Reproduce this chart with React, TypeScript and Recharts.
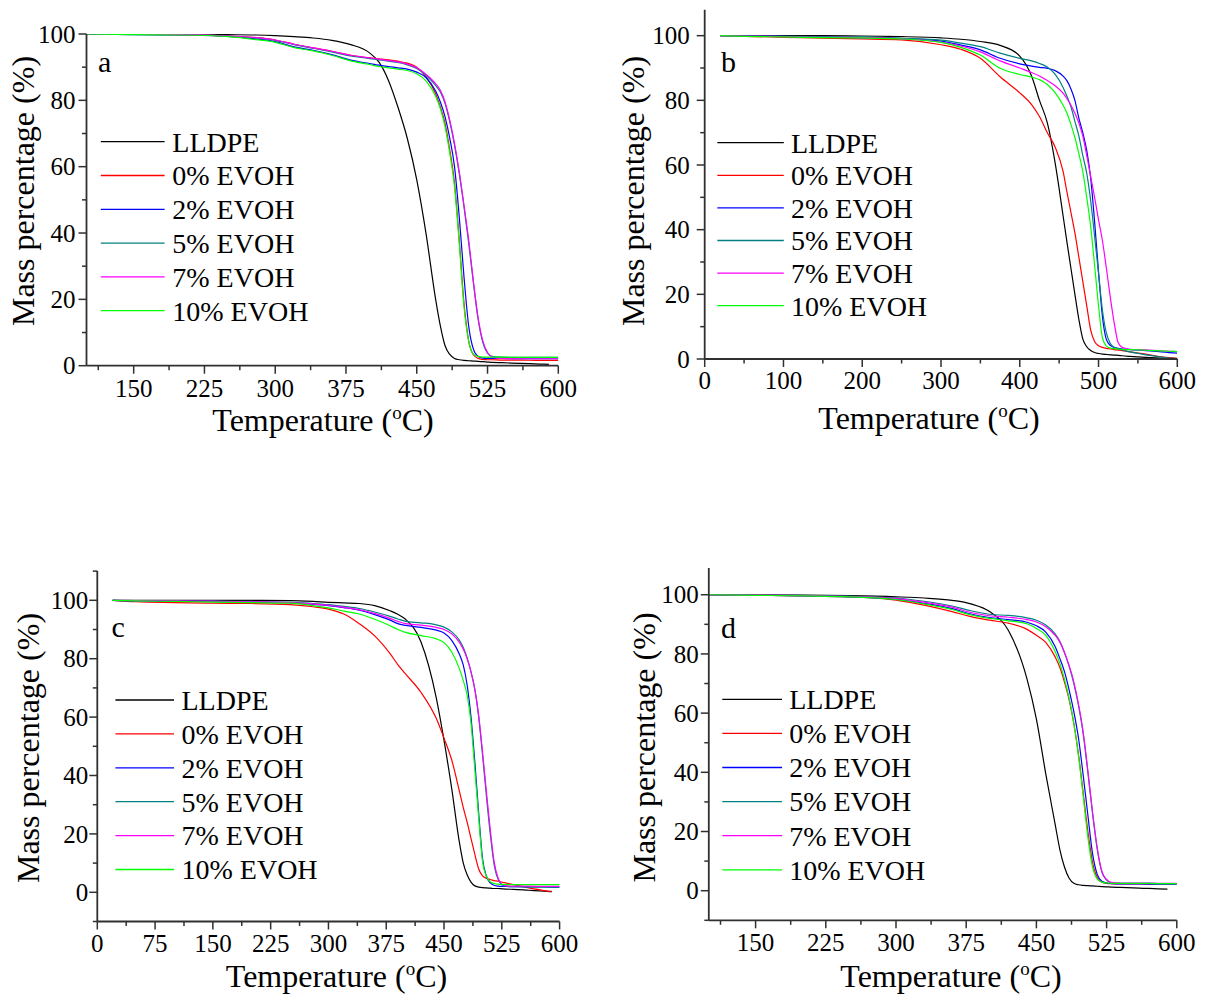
import React from 'react';
import { LineChart, Line, XAxis, YAxis, Legend } from 'recharts';

// series shared by all four panels
const seriesNames = ['LLDPE', '0% EVOH', '2% EVOH', '5% EVOH', '7% EVOH', '10% EVOH'];
const seriesColors = ['#000000', '#ff0000', '#0000ff', '#008080', '#ff00ff', '#00ff00'];
const seriesKeys = ['lldpe', 'evoh0', 'evoh2', 'evoh5', 'evoh7', 'evoh10'];

// panel a
const tempsA = [100, 150, 200, 250, 280, 300, 320, 340, 360, 380, 400, 410, 420, 430, 440, 450, 460, 470, 475, 480, 485, 490, 495, 500, 505, 510, 515, 520, 525, 530, 540, 560, 580, 590, 600];
const lldpeA = [100, 100, 99.9, 99.8, 99.7, 99.5, 99.2, 98.8, 98.1, 96.8, 94.3, 91.5, 86, 78, 68.5, 56, 39.5, 20, 12, 6, 3.4, 2.2, 1.8, 1.6, 1.5, 1.4, 1.3, 1.2, 1.1, 1.0, 0.9, 0.7, 0.5, 0.4, null];
const evoh0A = [100, 99.9, 99.8, 99.4, 98.9, 98.2, 96.9, 95.8, 94.8, 93.6, 92.8, 92.5, 92.2, 91.8, 91.2, 90, 87, 82, 78, 73, 65, 55, 38, 19, 7.5, 3.3, 2.2, 1.9, 1.8, 1.8, 1.7, 1.7, 1.6, 1.6, 1.6];
const evoh2A = [100, 99.8, 99.7, 99.3, 98.5, 97.7, 96.1, 95.1, 93.8, 92.1, 91.1, 90.6, 90.2, 89.8, 89.4, 88.5, 86.8, 82.8, 79.5, 75, 68.5, 60, 45, 27, 12, 5, 2.8, 2.3, 2.2, 2.2, 2.2, 2.1, 2.1, 2.1, 2.1];
const evoh5A = [100, 99.9, 99.8, 99.4, 98.8, 98.1, 96.8, 95.7, 94.6, 93.4, 92.6, 92.2, 91.8, 91.4, 90.7, 89.6, 87.5, 84.5, 82.5, 79, 73.5, 66.5, 58, 48, 37, 25, 14, 7, 3.8, 2.8, 2.6, 2.5, 2.5, 2.5, 2.5];
const evoh7A = [100, 99.9, 99.8, 99.4, 98.9, 98.2, 96.9, 95.8, 94.8, 93.6, 92.8, 92.4, 92, 91.6, 90.9, 89.8, 87.8, 85, 83, 79.5, 74, 67, 58.5, 48.5, 38, 25.5, 14.5, 7.5, 4, 2.6, 2.2, 2.1, 2.1, 2.1, 2.1];
const evoh10A = [100, 99.8, 99.7, 99.2, 98.3, 97.5, 95.9, 94.9, 93.6, 91.9, 90.8, 90.2, 89.8, 89.4, 89, 88, 85.8, 81.2, 77.5, 72, 64, 54, 37, 18, 7.5, 3.5, 2.8, 2.6, 2.6, 2.6, 2.6, 2.5, 2.5, 2.5, 2.5];

// panel b
const tempsB = [20, 50, 100, 150, 200, 250, 300, 325, 350, 375, 400, 415, 425, 435, 445, 455, 460, 465, 470, 475, 480, 485, 490, 495, 500, 505, 510, 515, 520, 525, 530, 540, 560, 580, 590, 600];
const lldpeB = [100, 100, 100, 100, 99.9, 99.7, 99.3, 98.9, 98.2, 97, 93.7, 87.5, 80, 73, 60.5, 44.3, 36, 28, 20, 12.3, 6.2, 3.8, 2.6, 2.0, 1.7, 1.5, 1.4, 1.3, 1.2, 1.15, 1.0, 0.8, 0.5, 0.3, 0.2, null];
const evoh0B = [100, 99.8, 99.5, 99.2, 99, 98.7, 97.2, 95.8, 93, 87.3, 82.3, 78.7, 75, 70, 65.5, 58, 51.5, 45.3, 39, 31.5, 24, 16.5, 9, 5.4, 4.1, 3.6, 3.3, 3.1, 2.9, 2.75, 2.6, 2.2, 1.5, 0.7, 0.4, 0.2];
const evoh2B = [100, 99.9, 99.8, 99.6, 99.4, 99.1, 98.3, 97.1, 95.6, 93, 91.3, 90.6, 90.2, 89.9, 89.2, 87.5, 86, 83.5, 80, 74.5, 70, 64.5, 56, 42.5, 27, 13, 6, 4.2, 3.5, 3.3, 3.1, 2.9, 2.6, 2.2, 2.0, 1.8];
const evoh5B = [100, 99.9, 99.8, 99.7, 99.6, 99.2, 98.6, 97.7, 96.6, 94.6, 93, 92.2, 91.4, 90.3, 88, 84, 81.2, 78, 73.5, 69, 63, 57.5, 49, 38, 26.5, 15, 8, 4.8, 3.6, 3.1, 2.8, 2.2, 1.3, 0.6, 0.3, 0.1];
const evoh7B = [100, 99.9, 99.7, 99.5, 99.4, 99, 98, 96.8, 95, 92.2, 90, 88.6, 87.5, 86.1, 84.5, 82.2, 80.5, 78.5, 76, 73, 69, 63, 56.5, 50, 43, 36.5, 28, 19, 11, 5, 3.6, 3.0, 2.8, 2.5, 2.4, 2.3];
const evoh10B = [100, 99.8, 99.6, 99.4, 99.3, 99, 97.9, 96.4, 94, 89.9, 88, 87.2, 86.4, 84.9, 82.3, 78.5, 76, 72.5, 68.5, 63.5, 58, 50, 41, 29, 16.5, 6.5, 4, 3.4, 3.2, 3.1, 3, 2.9, 2.7, 2.5, 2.4, 2.3];

// panel c
const tempsC = [20, 50, 100, 150, 200, 250, 280, 300, 320, 340, 360, 380, 390, 400, 420, 440, 450, 460, 470, 475, 480, 485, 490, 495, 500, 505, 510, 515, 520, 525, 530, 540, 560, 580, 590, 600];
const lldpeC = [100, 100, 100, 100, 100, 99.9, 99.6, 99.3, 99.1, 98.9, 98.2, 96.4, 95.2, 93.5, 85.8, 66.5, 52, 35.5, 17, 10, 6, 3.5, 2.2, 1.8, 1.6, 1.5, 1.4, 1.3, 1.3, 1.2, 1.1, 1.0, 0.7, 0.4, 0.2, null];
const evoh0C = [100, 99.5, 99.2, 99, 98.9, 98.5, 97.8, 97, 95.3, 92, 87.8, 81.7, 78, 74.8, 68.5, 59.5, 52.8, 45.3, 34.6, 29, 24, 18.5, 13, 8, 5.6, 4.8, 4.4, 4.0, 3.8, 3.5, 3.2, 2.6, 1.5, 0.6, 0.3, null];
const evoh2C = [100, 99.8, 99.7, 99.6, 99.4, 99.1, 98.6, 98.2, 97.5, 96.6, 95.1, 93.2, 92, 91.4, 90.7, 89.8, 88.8, 86.3, 81.5, 77.8, 71, 60, 44.5, 27, 11.5, 5.5, 3.2, 2.4, 2.1, 2.0, 2.0, 1.9, 1.9, 1.9, 1.8, 1.8];
const evoh5C = [100, 99.9, 99.8, 99.7, 99.6, 99.3, 98.9, 98.5, 97.9, 97.2, 96, 94.5, 93.6, 92.8, 92.3, 91.6, 90.8, 89.2, 86.3, 83.8, 80.3, 75.5, 69.5, 60, 47, 33, 20, 9.5, 4.5, 2.6, 2.1, 1.9, 1.8, 1.8, 1.8, 1.8];
const evoh7C = [100, 99.9, 99.8, 99.7, 99.5, 99.2, 98.7, 98.3, 97.6, 96.8, 95.5, 93.8, 92.8, 92, 91.5, 90.7, 90, 88.5, 85.6, 83.2, 80, 75.5, 69.5, 60.5, 48, 34.5, 21.5, 10.5, 5, 2.8, 2.3, 2.1, 2.1, 2.0, 2.0, 2.0];
const evoh10C = [100, 99.8, 99.6, 99.4, 99.2, 99, 98.2, 97.4, 96.3, 95.3, 93.5, 91.3, 90, 89, 87.9, 86.8, 85.5, 82.3, 76.5, 72.5, 67.5, 58, 42, 25.5, 10.5, 5.5, 3.6, 3, 2.8, 2.7, 2.7, 2.6, 2.6, 2.6, 2.6, 2.6];

// panel d
const tempsD = [100, 150, 200, 250, 300, 330, 360, 380, 400, 420, 440, 450, 460, 470, 475, 480, 485, 490, 495, 500, 505, 510, 515, 520, 525, 530, 540, 560, 580, 590, 600];
const lldpeD = [100, 100, 99.9, 99.7, 99.3, 98.9, 98.1, 96.9, 94.3, 88, 71.5, 58, 39.5, 22.5, 14, 8, 4.2, 2.5, 2, 1.8, 1.7, 1.6, 1.5, 1.4, 1.3, 1.2, 1.1, 0.9, 0.6, 0.5, null];
const evoh0D = [100, 99.8, 99.6, 99.3, 98.2, 96.5, 94.3, 92.6, 91.4, 90.4, 88.3, 86.3, 83.9, 79, 75.5, 70.5, 64.5, 56.5, 46, 33, 20, 9.5, 4.5, 2.9, 2.5, 2.4, 2.3, 2.3, 2.3, 2.3, 2.3];
const evoh2D = [100, 99.8, 99.6, 99.3, 98.5, 97.1, 95.3, 93.5, 92.3, 91.6, 90.7, 89.5, 87.4, 82.5, 78.5, 74, 67.8, 60.5, 51.5, 39, 25.5, 12.5, 5.5, 3.2, 2.6, 2.4, 2.3, 2.3, 2.2, 2.2, 2.2];
const evoh5D = [100, 99.9, 99.8, 99.5, 98.9, 97.8, 96.2, 94.6, 93.4, 93, 92.2, 91.4, 89.8, 86.8, 84.3, 80.5, 75.8, 70, 62.5, 53, 40, 26, 14, 6.2, 3.6, 2.7, 2.5, 2.5, 2.4, 2.4, 2.4];
const evoh7D = [100, 99.9, 99.7, 99.4, 98.7, 97.5, 95.8, 94, 92.9, 92.4, 91.6, 90.8, 89.2, 86.3, 84, 80.5, 76, 70.5, 63, 53.5, 40.5, 26.5, 14.5, 6.5, 3.8, 2.8, 2.6, 2.6, 2.5, 2.5, 2.5];
const evoh10D = [100, 99.8, 99.6, 99.3, 98.4, 96.9, 95, 93.2, 92, 91.2, 90.2, 88.6, 86.3, 80.8, 76.8, 71.5, 65, 56.5, 45.5, 32, 18, 8, 4, 2.9, 2.6, 2.5, 2.5, 2.5, 2.4, 2.4, 2.4];

// tick labels
const xTicksA = [150, 225, 300, 375, 450, 525, 600];
const xTicksB = [0, 100, 200, 300, 400, 500, 600];
const xTicksC = [0, 75, 150, 225, 300, 375, 450, 525, 600];
const xTicksD = [150, 225, 300, 375, 450, 525, 600];
const yTicks = [0, 20, 40, 60, 80, 100];

const FONT = '"Liberation Serif", "Times New Roman", serif';
const AXIS = '#303030';
const TICK_FONT = 25;
const LEGEND_FONT = 28;
const TITLE_FONT = 32;

// minor ticks sit halfway between majors (and one step beyond the ends)
const withMinor = (major: number[], lo: number, hi: number) => {
  const step = major[1] - major[0];
  const out: number[] = [];
  for (let v = major[0] - step / 2; v >= lo; v -= step / 2) out.unshift(v);
  for (let v = major[0]; v <= hi + 1e-6; v += step / 2) out.push(v);
  return out.filter((v) => v >= lo && v <= hi);
};

const buildRows = (temps: number[], series: (number | null)[][]) =>
  temps.map((t, i) => {
    const row: Record<string, number | null> = { t };
    series.forEach((s, k) => {
      row[seriesKeys[k]] = s[i];
    });
    return row;
  });

type Box = { left: number; top: number; width: number; height: number };
type Plot = { x0: number; x1: number; yTop: number; yBot: number };

interface PanelProps {
  letter: string;
  rows: Record<string, number | null>[];
  xDomain: [number, number];
  yDomain: [number, number];
  xMajor: number[];
  box: Box;
  plot: Plot;
  xLabelGap: number;
  yLabelGap: number;
  legend: { lineX0: number; lineX1: number; textX: number; y0: number; gap: number };
  letterPos: [number, number];
  xTitle: [number, number];
  yTitle: [number, number];
}

const YW = 60;
const XH = 50;

const Panel: React.FC<PanelProps> = (p) => {
  const { box, plot } = p;
  const margin = {
    left: plot.x0 - box.left - YW,
    right: box.left + box.width - plot.x1,
    top: plot.yTop - box.top,
    bottom: box.top + box.height - plot.yBot - XH,
  };
  const xTicks = withMinor(p.xMajor, p.xDomain[0], p.xDomain[1]);
  const yAll = withMinor(yTicks, p.yDomain[0], p.yDomain[1]);

  const xTick = (props: any) => {
    const { x, y, payload } = props;
    const major = p.xMajor.includes(payload.value);
    return (
      <g>
        <line x1={x} x2={x} y1={y} y2={y + (major ? 8 : 4.5)} stroke={AXIS} strokeWidth={1.5} />
        {major && (
          <text x={x} y={y + p.xLabelGap} dy="0.71em" textAnchor="middle" fontSize={TICK_FONT} fontFamily={FONT} fill="#000">
            {payload.value}
          </text>
        )}
      </g>
    );
  };

  const yTick = (props: any) => {
    const { x, y, payload } = props;
    const major = yTicks.includes(payload.value);
    return (
      <g>
        <line x1={x - (major ? 8 : 4.5)} x2={x} y1={y} y2={y} stroke={AXIS} strokeWidth={1.5} />
        {major && (
          <text x={x - p.yLabelGap} y={y} dy="0.35em" textAnchor="end" fontSize={TICK_FONT} fontFamily={FONT} fill="#000">
            {payload.value}
          </text>
        )}
      </g>
    );
  };

  // legend, panel letter and axis titles, in coordinates local to the chart box
  const overlay = () => {
    const lx = (v: number) => v - box.left;
    const ly = (v: number) => v - box.top;
    const lg = p.legend;
    return (
      <svg width={box.width} height={box.height} style={{ display: 'block', overflow: 'visible' }} fontFamily={FONT}>
        <text x={lx(p.letterPos[0])} y={ly(p.letterPos[1])} fontSize={30} fill="#000">
          {p.letter}
        </text>
        {seriesNames.map((name, i) => {
          const cy = ly(lg.y0 + i * lg.gap);
          return (
            <g key={name}>
              <line x1={lx(lg.lineX0)} x2={lx(lg.lineX1)} y1={cy} y2={cy} stroke={seriesColors[i]} strokeWidth={1.3} />
              <text x={lx(lg.textX)} y={cy} dy="0.35em" fontSize={LEGEND_FONT} fill="#000">
                {name}
              </text>
            </g>
          );
        })}
        <text x={lx(p.xTitle[0])} y={ly(p.xTitle[1])} textAnchor="middle" fontSize={TITLE_FONT} fill="#000">
          Temperature (
          <tspan dy={-12} fontSize={19}>
            o
          </tspan>
          <tspan dy={12}>C)</tspan>
        </text>
        <text
          x={lx(p.yTitle[0])}
          y={ly(p.yTitle[1])}
          textAnchor="middle"
          fontSize={TITLE_FONT}
          fill="#000"
          transform={`rotate(-90 ${lx(p.yTitle[0])} ${ly(p.yTitle[1])})`}
        >
          Mass percentage (%)
        </text>
      </svg>
    );
  };

  return (
    <div style={{ position: 'absolute', left: box.left, top: box.top, width: box.width, height: box.height }}>
      <LineChart width={box.width} height={box.height} data={p.rows} margin={margin}>
        <XAxis
          dataKey="t"
          type="number"
          domain={p.xDomain}
          ticks={xTicks}
          interval={0}
          allowDataOverflow
          height={XH}
          tickSize={0}
          tickMargin={0}
          tickLine={false}
          tick={xTick}
          axisLine={{ stroke: AXIS, strokeWidth: 1.8 }}
        />
        <YAxis
          type="number"
          domain={p.yDomain}
          ticks={yAll}
          interval={0}
          allowDataOverflow
          width={YW}
          tickSize={0}
          tickMargin={0}
          tickLine={false}
          tick={yTick}
          axisLine={{ stroke: AXIS, strokeWidth: 1.8 }}
        />
        {seriesKeys.map((k, i) => (
          <Line
            key={k}
            dataKey={k}
            name={seriesNames[i]}
            type="monotone"
            stroke={seriesColors[i]}
            strokeWidth={1.2}
            dot={false}
            activeDot={false}
            isAnimationActive={false}
          />
        ))}
        <Legend
          layout="vertical"
          align="center"
          verticalAlign="middle"
          width={box.width}
          height={box.height}
          wrapperStyle={{ left: 0, top: 0, width: box.width, height: box.height, pointerEvents: 'none' }}
          content={overlay}
        />
      </LineChart>
    </div>
  );
};

const rowsA = buildRows(tempsA, [lldpeA, evoh0A, evoh2A, evoh5A, evoh7A, evoh10A]);
const rowsB = buildRows(tempsB, [lldpeB, evoh0B, evoh2B, evoh5B, evoh7B, evoh10B]);
const rowsC = buildRows(tempsC, [lldpeC, evoh0C, evoh2C, evoh5C, evoh7C, evoh10C]);
const rowsD = buildRows(tempsD, [lldpeD, evoh0D, evoh2D, evoh5D, evoh7D, evoh10D]);

export default function App() {
  return (
    <div style={{ position: 'absolute', left: 0, top: 0, width: 1206, height: 994, background: '#fff', fontFamily: FONT }}>
      <Panel
        letter="a"
        rows={rowsA}
        xDomain={[100, 600]}
        yDomain={[0, 100]}
        xMajor={xTicksA}
        box={{ left: 0, top: 0, width: 603, height: 497 }}
        plot={{ x0: 86.5, x1: 558.3, yTop: 34, yBot: 365.7 }}
        xLabelGap={14}
        yLabelGap={11}
        legend={{ lineX0: 100.8, lineX1: 164.6, textX: 172.3, y0: 141.7, gap: 33.8 }}
        letterPos={[98, 71.7]}
        xTitle={[323, 431]}
        yTitle={[34, 191]}
      />
      <Panel
        letter="b"
        rows={rowsB}
        xDomain={[0, 600]}
        yDomain={[0, 108]}
        xMajor={xTicksB}
        box={{ left: 603, top: 0, width: 603, height: 497 }}
        plot={{ x0: 704.7, x1: 1177.3, yTop: 9.8, yBot: 359 }}
        xLabelGap={12}
        yLabelGap={15}
        legend={{ lineX0: 717.3, lineX1: 783.8, textX: 791, y0: 142.7, gap: 32.6 }}
        letterPos={[721, 71.7]}
        xTitle={[929, 429]}
        yTitle={[644, 191]}
      />
      <Panel
        letter="c"
        rows={rowsC}
        xDomain={[0, 600]}
        yDomain={[-10, 110]}
        xMajor={xTicksC}
        box={{ left: 0, top: 497, width: 603, height: 497 }}
        plot={{ x0: 97.3, x1: 559.6, yTop: 571.1, yBot: 921.5 }}
        xLabelGap={13}
        yLabelGap={9}
        legend={{ lineX0: 115.4, lineX1: 174, textX: 181.5, y0: 700, gap: 33.9 }}
        letterPos={[111.5, 636.7]}
        xTitle={[336.5, 987]}
        yTitle={[38.5, 748]}
      />
      <Panel
        letter="d"
        rows={rowsD}
        xDomain={[100, 600]}
        yDomain={[-10, 109]}
        xMajor={xTicksD}
        box={{ left: 603, top: 497, width: 603, height: 497 }}
        plot={{ x0: 708.8, x1: 1176.8, yTop: 568.1, yBot: 920.3 }}
        xLabelGap={13}
        yLabelGap={10}
        legend={{ lineX0: 722.3, lineX1: 782, textX: 789.2, y0: 699.3, gap: 34.1 }}
        letterPos={[721, 638.3]}
        xTitle={[951, 987]}
        yTitle={[655, 747.5]}
      />
    </div>
  );
}
